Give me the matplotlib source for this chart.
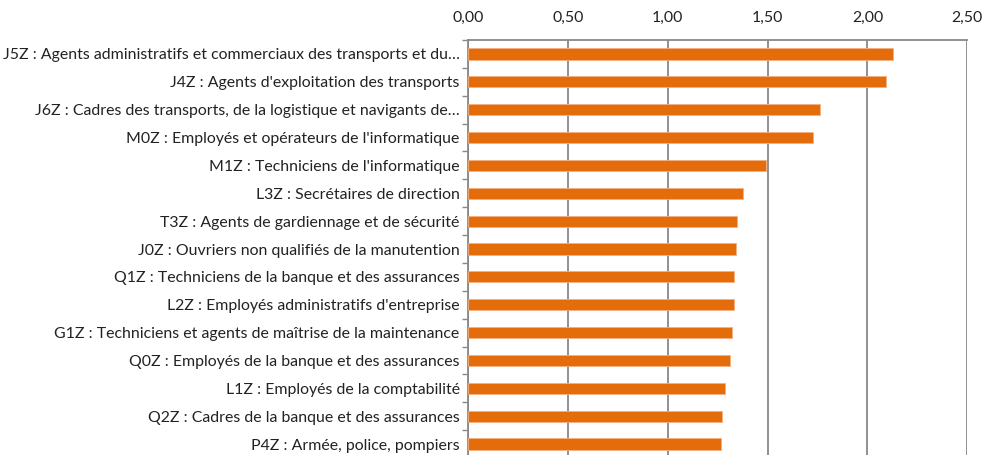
import matplotlib.pyplot as plt
import numpy as np

labels = [
    "J5Z : Agents administratifs et commerciaux des transports et du…",
    "J4Z : Agents d'exploitation des transports",
    "J6Z : Cadres des transports, de la logistique et navigants de…",
    "M0Z : Employés et opérateurs de l'informatique",
    "M1Z : Techniciens de l'informatique",
    "L3Z : Secrétaires de direction",
    "T3Z : Agents de gardiennage et de sécurité",
    "J0Z : Ouvriers non qualifiés de la manutention",
    "Q1Z : Techniciens de la banque et des assurances",
    "L2Z : Employés administratifs d'entreprise",
    "G1Z : Techniciens et agents de maîtrise de la maintenance",
    "Q0Z : Employés de la banque et des assurances",
    "L1Z : Employés de la comptabilité",
    "Q2Z : Cadres de la banque et des assurances",
    "P4Z : Armée, police, pompiers",
]
values = [2.13, 2.094, 1.76, 1.727, 1.49, 1.377, 1.348, 1.34, 1.331,
          1.331, 1.321, 1.311, 1.285, 1.271, 1.268]
xticks = [0, 0.5, 1.0, 1.5, 2.0, 2.5]

plt.rcParams['font.family'] = ['Lato', 'DejaVu Sans']

fig = plt.figure(figsize=(9.89, 4.55), dpi=100)
ax = fig.add_axes([468 / 989, -3 / 455, (967.3 - 468) / 989, 418 / 455])

y = np.arange(len(labels))
ax.barh(y, values, height=0.4, color='#E46C0A', edgecolor='#F4B183', linewidth=0.6, zorder=3)

ax.set_xlim(0, 2.5)
ax.set_ylim(len(labels) - 0.5, -0.5)
ax.xaxis.tick_top()
ax.set_xticks(xticks)
ax.set_xticklabels([f"{v:.2f}".replace('.', ',') for v in xticks], fontsize=11.4, color='#222222')
ax.tick_params(axis='x', length=0, pad=11)

ax.set_yticks(y)
ax.set_yticklabels(labels, fontsize=11.4, color='#222222')
ax.tick_params(axis='y', which='major', length=0, pad=6)
ax.set_yticks(np.arange(len(labels) + 1) - 0.5, minor=True)
ax.tick_params(axis='y', which='minor', length=4, width=1, color='#888888', direction='out')

ax.grid(axis='x', color='#888888', linewidth=1.3, zorder=0)
for s in ['right', 'bottom']:
    ax.spines[s].set_visible(False)
ax.spines['left'].set_color('#888888')
ax.spines['left'].set_linewidth(1.3)
ax.spines['top'].set_color('#888888')
ax.spines['top'].set_linewidth(1.3)
ax.set_axisbelow(True)

plt.savefig('out.png', dpi=100)
